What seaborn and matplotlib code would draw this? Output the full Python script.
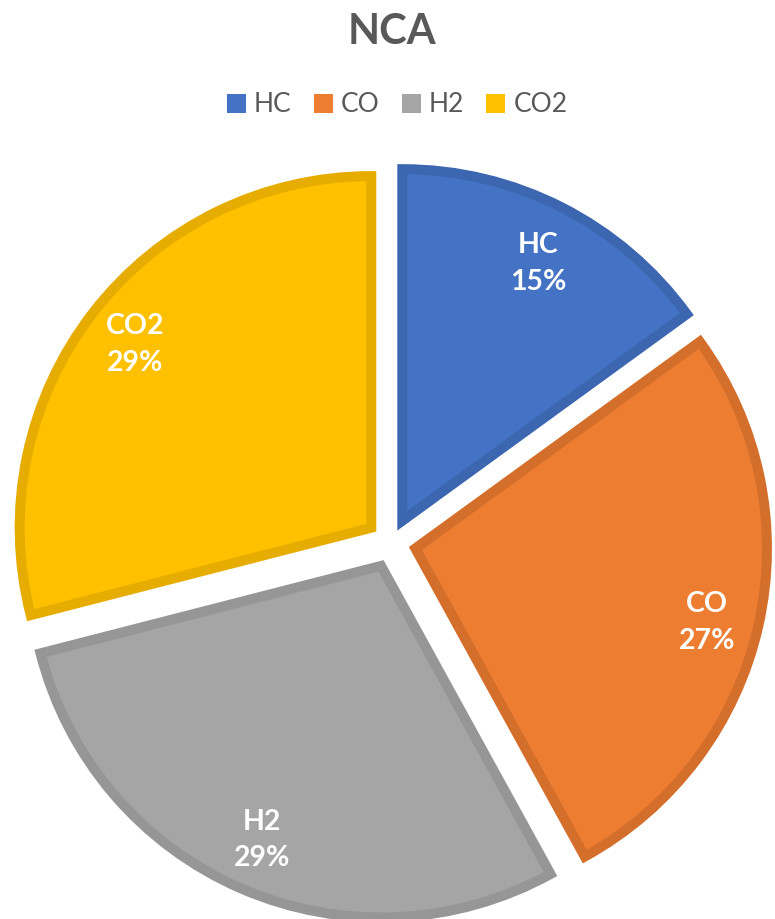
import matplotlib.pyplot as plt
import seaborn as sns

# data
categories = ['HC', 'CO', 'H2', 'CO2']
shares = [15, 27, 29, 29]
fill_colors = ['#4472C4', '#ED7D31', '#A5A5A5', '#FFC000']
edge_colors = ['#3C66B0', '#D46E2B', '#969696', '#E6AD00']

sns.set_theme(style='white')
plt.rcParams['font.family'] = ['Lato', 'DejaVu Sans']

fig = plt.figure(figsize=(7.75, 9.19), dpi=100)
ax = fig.add_axes([0, 0, 1, 1])

palette = sns.color_palette(fill_colors)
names = iter(categories)

wedges, texts, autotexts = ax.pie(
    shares,
    colors=palette,
    startangle=90,
    counterclock=False,
    explode=[0.071] * len(shares),
    autopct=lambda p: f'{next(names)}\n{p:.0f}%',
    pctdistance=0.85,
    wedgeprops=dict(linewidth=7.2, joinstyle='miter'),
    textprops=dict(color='white', fontsize=20.5, fontweight='bold', linespacing=1.5),
)
for w, ec in zip(wedges, edge_colors):
    w.set_edgecolor(ec)

# Excel sits the first two labels a little lower
for t in autotexts[:2]:
    x, y = t.get_position()
    t.set_position((x, y - 0.025))

# place the pie the same way as the reference (centre ~ (391, 543) px, radius ~352 px)
r_px, cx, cy = 351.6, 391, 543
ax.set_aspect('auto')
ax.set_xlim(-cx / r_px, (775 - cx) / r_px)
ax.set_ylim(-(919 - cy) / r_px, cy / r_px)
ax.axis('off')

fig.text(392 / 775, 1 - 32 / 919, 'NCA', ha='center', va='center',
         fontsize=30, fontweight='bold', color='#595959')

leg = fig.legend(wedges, categories, loc='center', bbox_to_anchor=(397 / 775, 1 - 105 / 919),
                 ncol=4, frameon=False, fontsize=19, handlelength=0.72, handleheight=0.72,
                 handletextpad=0.3, columnspacing=0.85, labelcolor='#595959')
for h, c in zip(leg.legend_handles, fill_colors):
    h.set_edgecolor('none')
    h.set_facecolor(c)

fig.savefig('out.png', dpi=100)
